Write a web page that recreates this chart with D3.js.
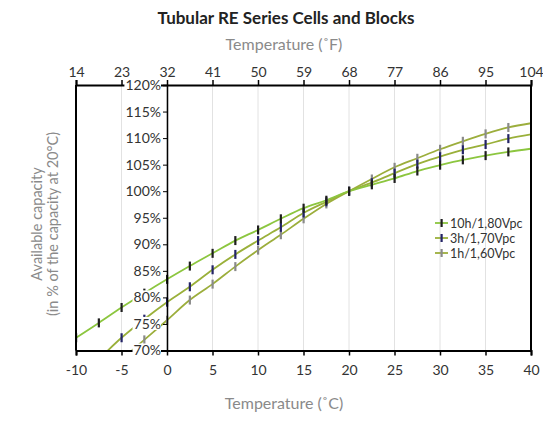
<!DOCTYPE html>
<html><head><meta charset="utf-8">
<script src="https://cdn.jsdelivr.net/npm/d3@7"></script>
<style>body{margin:0;background:#fff}svg{display:block}text{font-family:Lato,"Open Sans",sans-serif}</style>
</head><body>
<svg id="c" width="543" height="424"></svg>
<script>
const temps = [-10,-7.5,-5,-2.5,0,2.5,5,7.5,10,12.5,15,17.5,20,22.5,25,27.5,30,32.5,35,37.5,40];
const s10h = [72.4,75.2,78.1,80.8,83.4,85.9,88.3,90.7,92.7,94.8,96.8,98.3,100,101.2,102.4,103.8,104.9,105.9,106.7,107.4,108.0];
const s3h  = [64.6,68.4,72.4,75.9,79.1,82.0,85.2,88.1,90.7,93.2,95.9,98.0,100,101.6,103.4,105.1,106.5,107.8,108.8,109.9,110.7];
const s1h  = [60.5,64.5,68.3,72.0,75.7,79.5,82.5,85.8,88.9,91.8,94.8,97.6,100,102.3,104.5,106.2,107.9,109.4,110.8,112.0,112.8];
const seriesNames = ["10h/1,80Vpc","3h/1,70Vpc","1h/1,60Vpc"];
const xTicksC = [-10,-5,0,5,10,15,20,25,30,35,40];
const xTicksF = [14,23,32,41,50,59,68,77,86,95,104];
const yTicks = [70,75,80,85,90,95,100,105,110,115,120];

const svg = d3.select("#c");
const L=76,R=531,T=85,B=350.5;
const x = d3.scaleLinear().domain([-10,40]).range([L,R]);
const xF = d3.scaleLinear().domain([14,104]).range([L,R]);
const y = d3.scaleLinear().domain([70,120]).range([B,T]);

// title
svg.append("text").attr("x",286).attr("y",24).attr("text-anchor","middle")
  .style("font-weight","bold").style("font-size","17px").attr("fill","#222")
  .text("Tubular RE Series Cells and Blocks");
svg.append("text").attr("x",284).attr("y",50).attr("text-anchor","middle")
  .style("font-size","16px").attr("fill","#8a8a8a").text("Temperature (˚F)");
svg.append("text").attr("x",284).attr("y",409).attr("text-anchor","middle")
  .style("font-size","16px").attr("fill","#8a8a8a").text("Temperature (˚C)");
const yt = svg.append("text").attr("transform","translate(44,224) rotate(-90)")
  .attr("text-anchor","middle").style("font-size","14.5px").attr("fill","#8a8a8a");
yt.append("tspan").attr("x",0).attr("y",-2).text("Available capacity");
yt.append("tspan").attr("x",0).attr("y",14).text("(in % of the capacity at 20°C)");

// grid
svg.append("g").selectAll("line").data(xTicksC).join("line")
  .attr("x1",d=>x(d)).attr("x2",d=>x(d)).attr("y1",T).attr("y2",B)
  .attr("stroke","#e2e2e2").attr("stroke-width",1);

// clip
svg.append("clipPath").attr("id","clip").append("rect")
  .attr("x",L).attr("y",T).attr("width",R-L).attr("height",B-T);

const series = [
  {name:seriesNames[0], vals:s10h, line:"#8cc63f", mk:"#1e1e1e"},
  {name:seriesNames[1], vals:s3h, line:"#9ab03a", mk:"#232366"},
  {name:seriesNames[2], vals:s1h, line:"#9cae3c", mk:"#8a8a8a"}
];
const lineGen = d3.line().x(d=>x(d[0])).y(d=>y(d[1])).curve(d3.curveMonotoneX);
const pg = svg.append("g").attr("clip-path","url(#clip)");
series.slice().reverse().forEach(s=>{
  const pts = temps.map((t,i)=>[t,s.vals[i]]);
  pg.append("path").datum(pts).attr("d",lineGen).attr("fill","none")
    .attr("stroke",s.line).attr("stroke-width",1.8);
});
series.slice().reverse().forEach(s=>{
  const pts = temps.map((t,i)=>[t,s.vals[i]]);
  pg.append("g").selectAll("rect").data(pts).join("rect")
    .attr("x",d=>x(d[0])-1).attr("y",d=>y(d[1])-4.5).attr("width",2.2).attr("height",9)
    .attr("fill",s.mk);
});

// frame
svg.append("line").attr("x1",L).attr("x2",L).attr("y1",T).attr("y2",B).attr("stroke","#000").attr("stroke-width",2);
svg.append("line").attr("x1",R).attr("x2",R).attr("y1",T).attr("y2",B).attr("stroke","#000").attr("stroke-width",2);

const fmt = d=>String(d);
// bottom axis
const bx = svg.append("g").attr("transform",`translate(0,${B})`)
  .call(d3.axisBottom(x).tickValues(xTicksC).tickSize(5).tickPadding(10).tickFormat(fmt));
bx.select(".domain").attr("stroke","#000").attr("stroke-width",2);
bx.selectAll(".tick line").attr("stroke","#000").attr("stroke-width",1.5);
bx.selectAll("text").style("font-size","14px").attr("fill","#333").style("font-family","Lato,sans-serif");

// top axis
const tx = svg.append("g").attr("transform",`translate(0,${T})`)
  .call(d3.axisTop(xF).tickValues(xTicksF).tickSize(5).tickPadding(3).tickFormat(fmt));
tx.select(".domain").attr("stroke","#000").attr("stroke-width",2);
tx.selectAll(".tick line").attr("stroke","#000").attr("stroke-width",1.5);
tx.selectAll("text").style("font-size","14px").attr("fill","#333").style("font-family","Lato,sans-serif");

// y axis at 0°C
const y0 = x(0);
const ya = svg.append("g").attr("transform",`translate(${y0},0)`)
  .call(d3.axisLeft(y).tickValues(yTicks).tickSize(4).tickPadding(2).tickFormat(d=>d+"%"));
ya.select(".domain").attr("stroke","#000").attr("stroke-width",1.5);
ya.selectAll(".tick line").attr("stroke","#000");
ya.selectAll("text").style("font-size","14px").attr("fill","#333").style("font-family","Lato,sans-serif");
ya.selectAll(".tick").each(function(){
  const g = d3.select(this), t = g.select("text");
  const bb = t.node().getBBox();
  g.insert("rect","text").attr("x",bb.x-1).attr("y",bb.y+2).attr("width",bb.width+1).attr("height",bb.height-4).attr("fill","#fff");
});

// legend
const lg = svg.append("g");
series.forEach((s,i)=>{
  const ly = 223 + i*15;
  lg.append("line").attr("x1",435).attr("x2",448).attr("y1",ly).attr("y2",ly).attr("stroke",s.line).attr("stroke-width",1.8);
  lg.append("rect").attr("x",440.5).attr("y",ly-4).attr("width",2.2).attr("height",8).attr("fill",s.mk);
  lg.append("text").attr("x",450).attr("y",ly+4.5).style("font-size","12.5px").attr("fill","#333").text(s.name);
});
</script>
</body></html>
